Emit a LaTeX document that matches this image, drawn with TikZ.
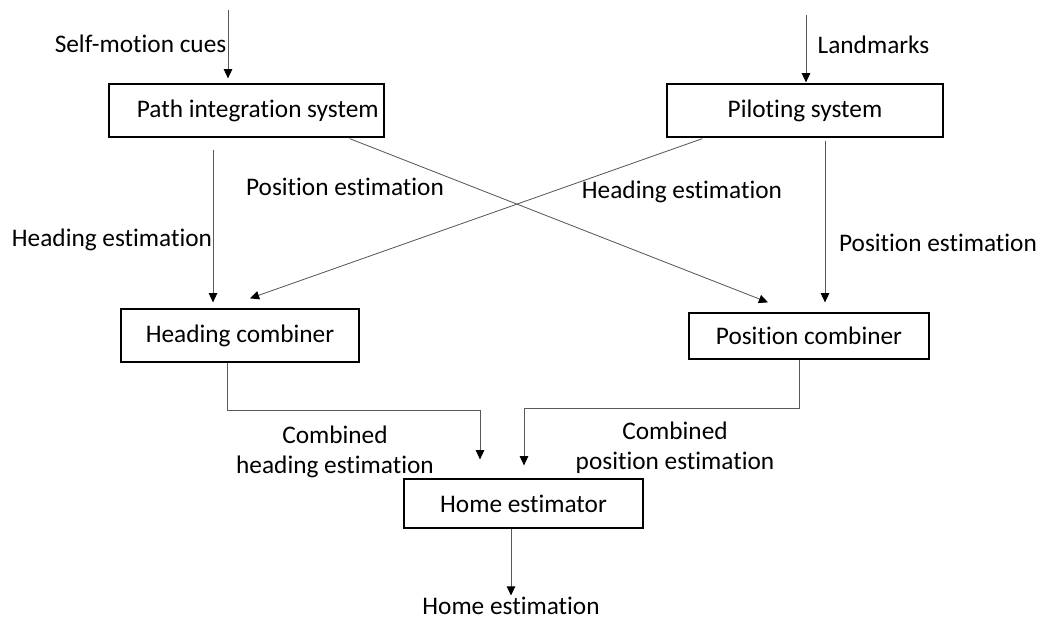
\documentclass[tikz,border=0pt]{standalone}
\usepackage{fontspec}
\setmainfont{Carlito}[Ligatures=NoCommon]
\usepackage{tikz}
\usetikzlibrary{calc,arrows.meta}

\begin{document}
\begin{tikzpicture}[x=0.025cm, y=-0.025cm,
  every node/.style={font=\fontsize{18pt}{21.5pt}\selectfont, inner sep=1pt},
  box/.style={draw=black, line width=0.9pt, minimum height=1.325cm},
  conn/.style={draw=black!65, line width=0.6pt, -{Triangle[length=6.5pt,width=6pt,color=black]}}]
  \useasboundingbox (0,0) rectangle (1041,619);

  \node (pis) [box, minimum width=6.875cm] at (246.5,110.5) {\hspace{16pt}Path integration system};
  \node (pil) [box, minimum width=6.9cm] at (805,110.5) {Piloting system};
  \node (hc) [box, minimum width=5.95cm] at (240,335.5) {Heading combiner};
  \node (pc) [box, minimum width=6cm, minimum height=1.15cm] at (809,336) {Position combiner};
  \node (he) [box, minimum width=5.975cm, minimum height=1.225cm] at (523.5,503.5) {Home estimator};

  \coordinate (smtop) at (228,10);
  \coordinate (lmtop) at (806,15);
  \node (smlbl) [anchor=east] at (228,44) {Self-motion cues};
  \node (lmlbl) [anchor=west] at (816,45) {Landmarks};
  \node (pelbl1) at (345,187) {Position estimation};
  \node (helbl1) at (112,240) {Heading estimation};
  \node (helbl2) at (682,192) {Heading estimation};
  \node (pelbl2) at (938,243) {Position estimation};
  \node (chlbl) [align=center] at (335,452) {Combined\\heading estimation};
  \node (cplbl) [align=center] at (675,448) {Combined\\position estimation};
  \node (homeout) at (511,606) {Home estimation};

  \draw[conn] (smtop) -- ($(pis.north)+(-18.5,-5)$);
  \draw[conn] (lmtop) -- ($(pil.north)+(1,-1)$);
  \draw[conn] ($(pis.south)+(-33.5,12)$) -- ($(hc.north)+(-27,-6)$);
  \draw[conn] ($(pil.south)+(20,3)$) -- ($(pc.north)+(16,-10)$);
  \draw[conn] ($(pis.south east)+(-35,1)$) -- ($(pc.north)+(-41,-10)$);
  \draw[conn] ($(pil.south west)+(36,1)$) -- ($(hc.north)+(10,-10)$);
  \draw[conn] ($(hc.south)+(-13,0)$) -- ++(0,48) -| ($(he.north)+(-43.5,-19)$);
  \draw[conn] ($(pc.south)+(-10,0)$) -- ++(0,49) -| ($(he.north)+(0.5,-13)$);
  \draw[conn] ($(he.south)+(-12.5,0)$) -- (homeout);
\end{tikzpicture}
\end{document}
